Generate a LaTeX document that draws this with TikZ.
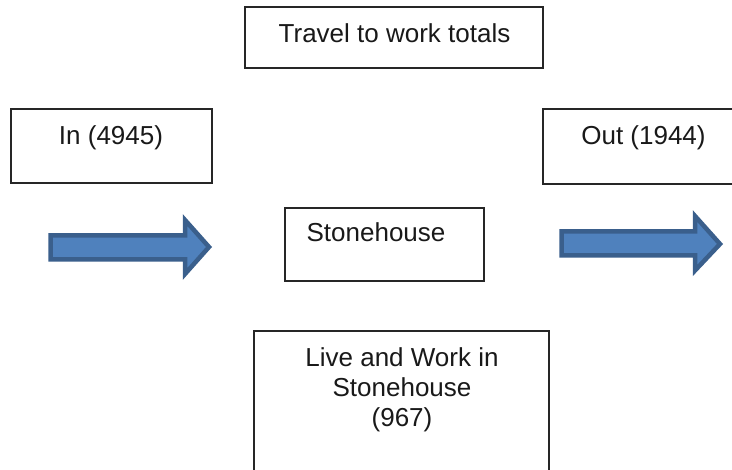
\documentclass[tikz,border=0pt]{standalone}
\usepackage{fontspec}
\setmainfont{Liberation Sans}
\begin{document}
\begin{tikzpicture}[x=1pt,y=-1pt,
  box/.style={draw=black!85, line width=1.4pt, fill=white, inner sep=0pt},
  lbl/.style={anchor=base, inner sep=0pt, text=black!90, font=\fontsize{26}{30}\selectfont},
  blockarrow/.style={fill=arrowfill, draw=arrowedge, line width=4.5pt, line join=miter}]
\definecolor{arrowfill}{HTML}{4F81BD}
\definecolor{arrowedge}{HTML}{3A5F8C}
\clip (0,0) rectangle (732,470);
\fill[white] (0,0) rectangle (732,470);
% boxes
\node[box, minimum width=298pt, minimum height=61pt] (title) at (394,37.5) {};
\node[box, minimum width=201pt, minimum height=74pt] (inbox) at (111.5,146) {};
\node[box, minimum width=202pt, minimum height=75pt] (outbox) at (644,146.5) {};
\node[box, minimum width=199pt, minimum height=73pt] (stone) at (384.5,244.5) {};
\node[box, minimum width=295pt, minimum height=150pt] (live) at (401.5,406) {};
% texts
\node[lbl] (tTitle) at (394.5,43) {Travel to work totals};
\node[lbl] (tIn) at (111,145) {In (4945)};
\node[lbl] (tOut) at (643.5,145) {Out (1944)};
\node[lbl] (tStone) at (376,242) {Stonehouse};
\node[lbl] (tLive1) at (402,367) {Live and Work in};
\node[lbl] (tLive2) at (402,397) {Stonehouse};
\node[lbl] (tLive3) at (402,427) {(967)};
% block arrows
\draw[blockarrow] (50.5,235.5) -- (185,235.5) -- (185,220) -- (209,247) -- (185,274) -- (185,259.5) -- (50.5,259.5) -- cycle;
\draw[blockarrow] (561.5,231.5) -- (695,231.5) -- (695,216) -- (720,244) -- (695,270.5) -- (695,255.5) -- (561.5,255.5) -- cycle;
\end{tikzpicture}
\end{document}
